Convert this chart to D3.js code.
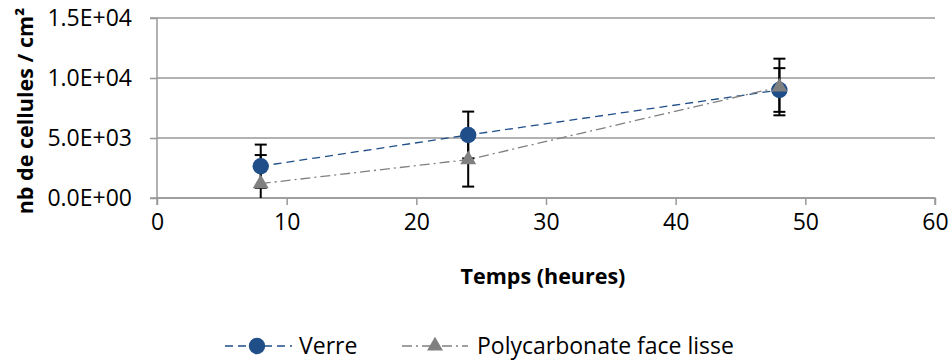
<!DOCTYPE html>
<html><head><meta charset="utf-8">
<script src="https://cdn.jsdelivr.net/npm/d3@7"></script>
<style>
body{margin:0;background:#fff;}
svg{display:block;font-family:"Open Sans",sans-serif;}
</style></head>
<body><svg id="c" width="952" height="363"></svg>
<script>
const times = [8, 24, 48];
const verre = [2650, 5250, 9000];
const verreErr = [1800, 1950, 1820];
const poly = [1200, 3200, 9250];
const polyErr = [2380, 2250, 2360];
const xTicks = [0, 10, 20, 30, 40, 50, 60];
const yTicks = [0, 5000, 10000, 15000];
const seriesNames = ["Verre", "Polycarbonate face lisse"];
const xTitle = "Temps (heures)";
const yTitle = "nb de cellules / cm²";

const svg = d3.select("#c");
const x = d3.scaleLinear().domain([0, 60]).range([157, 935]);
const y = d3.scaleLinear().domain([0, 15000]).range([198, 18]);
const gridCol = "#999999";
const fmt = d => {
  if (d === 0) return "0.0E+00";
  const e = Math.floor(Math.log10(d));
  const m = d / Math.pow(10, e);
  return m.toFixed(1) + "E+" + String(e).padStart(2, "0");
};

// gridlines
svg.append("g").selectAll("line").data(yTicks).join("line")
  .attr("x1", x(0)).attr("x2", x(60))
  .attr("y1", d => y(d)).attr("y2", d => y(d))
  .attr("stroke", gridCol).attr("stroke-width", 1.5);

// y axis
const ya = svg.append("g").attr("transform", `translate(${x(0)},0)`)
  .call(d3.axisLeft(y).tickValues(yTicks).tickFormat(fmt).tickSize(7).tickPadding(18));
ya.select(".domain").attr("stroke", gridCol).attr("stroke-width", 1.5).attr("d", `M-7,${y(15000)}H0V${y(0)}H-7`);
ya.selectAll(".tick line").attr("stroke", gridCol).attr("stroke-width", 1.5);
ya.selectAll(".tick text").attr("font-size", 23).attr("fill", "#000").attr("font-family", "Open Sans");

// x axis
const xa = svg.append("g").attr("transform", `translate(0,${y(0)})`)
  .call(d3.axisBottom(x).tickValues(xTicks).tickSize(7).tickPadding(9));
xa.select(".domain").attr("stroke", gridCol).attr("stroke-width", 1.5).attr("d", `M${x(0)},7V0H${x(60)}V7`);
xa.selectAll(".tick line").attr("stroke", gridCol).attr("stroke-width", 1.5);
xa.selectAll(".tick text").attr("font-size", 23).attr("fill", "#000").attr("font-family", "Open Sans");

// titles
svg.append("text").attr("x", (x(0) + x(60)) / 2 - 3).attr("y", 284)
  .attr("text-anchor", "middle").attr("font-size", 21.5).attr("font-weight", "bold").text(xTitle);
svg.append("text").attr("transform", `translate(33,${(y(0) + y(15000)) / 2 + 3}) rotate(-90)`)
  .attr("text-anchor", "middle").attr("font-size", 21.5).attr("font-weight", "bold").text(yTitle);

const blue = "#1F4E89", gray = "#808080";
const line = d3.line().x(d => x(d[0])).y(d => y(d[1]));
const vData = times.map((t, i) => [t, verre[i], verreErr[i]]);
const pData = times.map((t, i) => [t, poly[i], polyErr[i]]);

svg.append("path").datum(vData).attr("d", line).attr("fill", "none")
  .attr("stroke", blue).attr("stroke-width", 1.3).attr("stroke-dasharray", "8,5");
svg.append("path").datum(pData).attr("d", line).attr("fill", "none")
  .attr("stroke", gray).attr("stroke-width", 1.3).attr("stroke-dasharray", "10,4,2,4");

// error bars
function errBars(data) {
  const g = svg.append("g").attr("stroke", "#000").attr("stroke-width", 2);
  data.forEach(d => {
    const top = y(d[1] + d[2]);
    const bot = Math.min(y(Math.max(0, d[1] - d[2])), y(0));
    g.append("line").attr("x1", x(d[0])).attr("x2", x(d[0])).attr("y1", top).attr("y2", bot);
    g.append("line").attr("x1", x(d[0]) - 6).attr("x2", x(d[0]) + 6).attr("y1", top).attr("y2", top);
    if (d[1] - d[2] > 0)
      g.append("line").attr("x1", x(d[0]) - 6).attr("x2", x(d[0]) + 6).attr("y1", bot).attr("y2", bot);
  });
}
errBars(vData);
errBars(pData);

const tri = d3.symbol().type(d3.symbolTriangle).size(110);
svg.append("g").selectAll("circle").data(vData).join("circle")
  .attr("cx", d => x(d[0])).attr("cy", d => y(d[1])).attr("r", 8.2).attr("fill", blue);
svg.append("g").selectAll("path").data(pData).join("path")
  .attr("d", tri).attr("transform", d => `translate(${x(d[0])},${y(d[1])})`).attr("fill", gray);

// legend
const ly = 346;
const lg = svg.append("g");
lg.append("line").attr("x1", 225).attr("x2", 292).attr("y1", ly).attr("y2", ly)
  .attr("stroke", blue).attr("stroke-width", 1.3).attr("stroke-dasharray", "8,5");
lg.append("circle").attr("cx", 257).attr("cy", ly).attr("r", 8.2).attr("fill", blue);
lg.append("text").attr("x", 299).attr("y", ly + 8).attr("font-size", 23).text(seriesNames[0]);
lg.append("line").attr("x1", 402).attr("x2", 468).attr("y1", ly).attr("y2", ly)
  .attr("stroke", gray).attr("stroke-width", 1.3).attr("stroke-dasharray", "10,4,2,4");
lg.append("path").attr("d", tri).attr("transform", `translate(435,${ly})`).attr("fill", gray);
lg.append("text").attr("x", 477).attr("y", ly + 8).attr("font-size", 23).text(seriesNames[1]);
</script></body></html>
